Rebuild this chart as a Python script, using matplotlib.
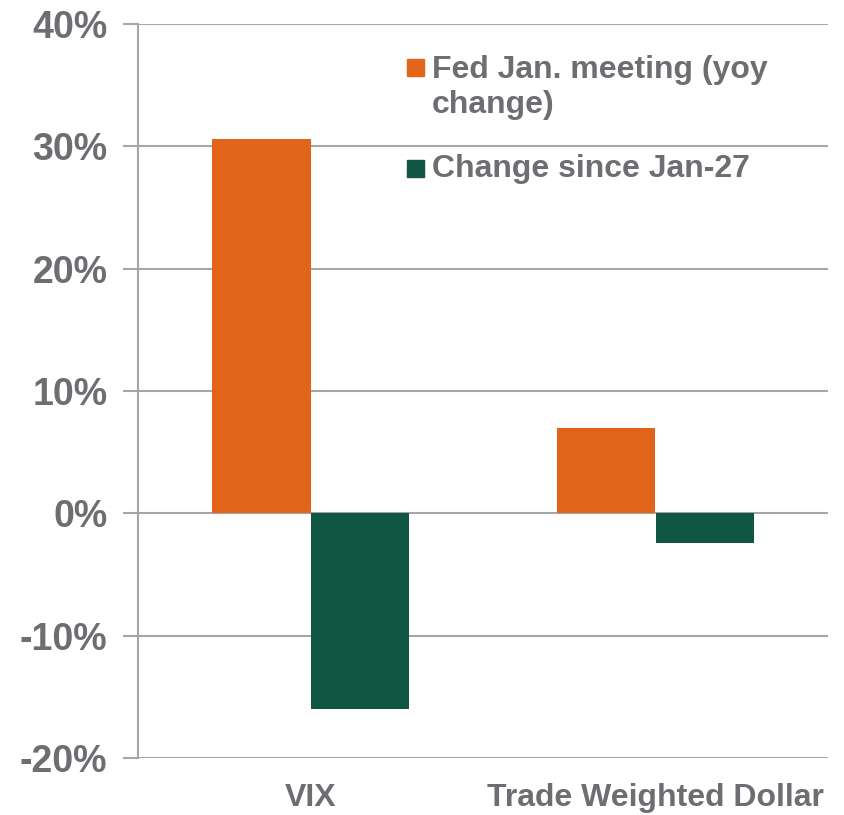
import numpy as np
import matplotlib.pyplot as plt
from matplotlib.patches import Rectangle

# Data (percent change)
categories = ["VIX", "Trade Weighted Dollar"]
fed_meeting = [30.6, 7.0]
since_jan27 = [-16.0, -2.45]
series_labels = ["Fed Jan. meeting (yoy\nchange)", "Change since Jan-27"]
yticks = [-20, -10, 0, 10, 20, 30, 40]

orange = "#E2641A"
green = "#115543"
gray = "#6D6E71"
grid = "#A6A6A6"

plt.rcParams['font.family'] = ['Liberation Sans', 'DejaVu Sans']
plt.rcParams['font.weight'] = 'bold'

W, H = 844, 815
fig = plt.figure(figsize=(W/100, H/100), dpi=100)
ax = fig.add_axes([138/W, 1 - 758/H, (828-138)/W, (758-24)/H])

x = np.arange(len(categories))
w = 0.286
ax.bar(x - w/2, fed_meeting, w, color=orange, zorder=3)
ax.bar(x + w/2, since_jan27, w, color=green, zorder=3)

ax.set_xlim(-0.5, 1.5)
ax.set_ylim(-20, 40)
ax.set_yticks(yticks)
ax.set_yticklabels([f"{t}%" for t in yticks], fontsize=27, color=gray, fontweight='bold')
ax.set_xticks(x)
ax.set_xticklabels(categories, fontsize=23, color=gray, fontweight='bold')
ax.tick_params(axis='x', length=0, pad=18)
ax.tick_params(axis='y', length=11, width=1.5, color=grid, pad=11)

ax.yaxis.grid(True, color=grid, linewidth=1.5, zorder=0)
for s in ['top', 'right', 'bottom']:
    ax.spines[s].set_visible(False)
ax.spines['left'].set_color(grid)
ax.spines['left'].set_linewidth(1.5)

# legend drawn by hand so the marker sits on the first line of the wrapped label
entries = [(orange, series_labels[0], 59, 78), (green, series_labels[1], 160, 177)]
for col, lab, top, base in entries:
    fig.patches.append(Rectangle((407/W, 1 - (top+17)/H), 17/W, 17/H,
                                 transform=fig.transFigure, color=col))
    lines = lab.split("\n")
    for i, line in enumerate(lines):
        fig.text(432/W, 1 - (base + i*35)/H, line, fontsize=23, color=gray,
                 fontweight='bold', va='baseline', ha='left')

fig.savefig("out.png", dpi=100)
